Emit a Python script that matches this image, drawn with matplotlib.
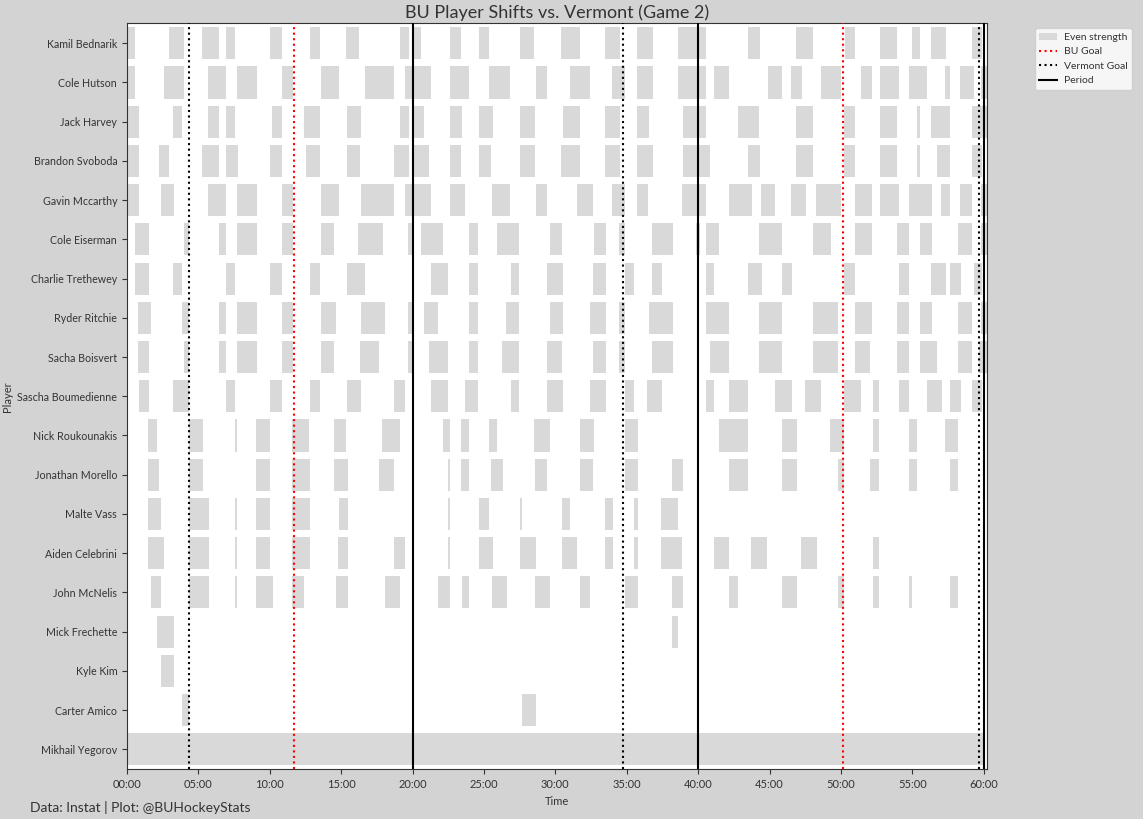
import matplotlib.pyplot as plt
from matplotlib.patches import Patch
from matplotlib.lines import Line2D
from matplotlib.ticker import FuncFormatter, MultipleLocator

plt.rcParams['font.family'] = ['Lato', 'DejaVu Sans']

# Jugadores (de arriba a abajo)
players = ['Kamil Bednarik', 'Cole Hutson', 'Jack Harvey', 'Brandon Svoboda',
           'Gavin Mccarthy', 'Cole Eiserman', 'Charlie Trethewey', 'Ryder Ritchie',
           'Sacha Boisvert', 'Sascha Boumedienne', 'Nick Roukounakis',
           'Jonathan Morello', 'Malte Vass', 'Aiden Celebrini', 'John McNelis',
           'Mick Frechette', 'Kyle Kim', 'Carter Amico', 'Mikhail Yegorov']

# Turnos (inicio, fin) en segundos
shifts = [
    [(0, 36), (176, 242), (315, 389), (415, 456), (600, 653), (768, 813), (919, 973), (1146, 1183),
     (1202, 1237), (1356, 1405), (1478, 1523), (1650, 1712), (1823, 1905), (2007, 2070), (2142, 2208),
     (2314, 2434), (2608, 2658), (2809, 2884), (3015, 3060), (3162, 3237), (3297, 3333), (3377, 3439),
     (3549, 3591)],
    [(0, 36), (155, 242), (340, 418), (462, 545), (651, 699), (815, 893), (1000, 1124), (1167, 1279),
     (1356, 1439), (1520, 1611), (1717, 1766), (1861, 1947), (2037, 2094), (2142, 2208), (2314, 2434),
     (2465, 2531), (2692, 2754), (2789, 2834), (2915, 3001), (3082, 3131), (3162, 3245), (3284, 3363),
     (3435, 3459), (3498, 3560), (3587, 3611)],
    [(0, 49), (193, 233), (340, 389), (415, 456), (609, 653), (743, 813), (924, 985), (1146, 1183),
     (1202, 1250), (1356, 1409), (1478, 1536), (1650, 1716), (1831, 1905), (2007, 2070), (2142, 2195),
     (2335, 2434), (2566, 2657), (2809, 2884), (3011, 3060), (3162, 3237), (3318, 3333), (3377, 3459),
     (3549, 3611)],
    [(0, 49), (134, 179), (315, 389), (415, 465), (600, 653), (751, 813), (924, 981), (1121, 1183),
     (1202, 1271), (1356, 1405), (1478, 1531), (1650, 1716), (1823, 1905), (2007, 2070), (2142, 2208),
     (2335, 2451), (2608, 2658), (2809, 2884), (3011, 3060), (3162, 3237), (3318, 3333), (3402, 3459),
     (3549, 3591)],
    [(0, 53), (143, 196), (340, 418), (462, 545), (651, 699), (815, 889), (983, 1124), (1167, 1279),
     (1356, 1422), (1533, 1611), (1717, 1766), (1890, 1960), (2037, 2094), (2142, 2187), (2331, 2434),
     (2528, 2624), (2663, 2724), (2789, 2851), (2894, 2999), (3057, 3131), (3162, 3245), (3284, 3380),
     (3419, 3459), (3498, 3552), (3587, 3611)],
    [(33, 91), (239, 259), (386, 418), (462, 545), (651, 699), (815, 872), (970, 1074), (1180, 1208),
     (1235, 1330), (1436, 1477), (1554, 1649), (1777, 1826), (1962, 2011), (2066, 2094), (2205, 2292),
     (2389, 2406), (2432, 2489), (2655, 2754), (2881, 2956), (3057, 3131), (3234, 3287), (3331, 3380),
     (3490, 3552), (3587, 3611)],
    [(33, 91), (193, 233), (415, 456), (600, 653), (768, 813), (924, 1002), (1277, 1347), (1436, 1477),
     (1613, 1649), (1764, 1830), (1958, 2011), (2092, 2132), (2205, 2246), (2432, 2468), (2608, 2666),
     (2751, 2792), (3011, 3060), (3242, 3287), (3377, 3439), (3457, 3502), (3558, 3591)],
    [(46, 103), (231, 259), (386, 418), (462, 545), (651, 699), (815, 880), (983, 1086), (1180, 1208),
     (1247, 1309), (1436, 1477), (1592, 1649), (1777, 1834), (1944, 2011), (2066, 2094), (2192, 2292),
     (2432, 2531), (2655, 2754), (2881, 2989), (3057, 3131), (3234, 3287), (3331, 3380), (3490, 3552),
     (3587, 3611)],
    [(46, 91), (239, 259), (386, 418), (462, 545), (651, 699), (815, 872), (979, 1061), (1180, 1208),
     (1268, 1347), (1436, 1477), (1575, 1649), (1764, 1826), (1958, 2011), (2066, 2094), (2205, 2292),
     (2393, 2403), (2448, 2531), (2655, 2754), (2881, 2989), (3057, 3123), (3234, 3287), (3331, 3405),
     (3490, 3552), (3579, 3611)],
    [(50, 91), (193, 259), (415, 456), (600, 653), (768, 813), (924, 985), (1121, 1170), (1277, 1347),
     (1419, 1477), (1613, 1649), (1764, 1830), (1944, 2011), (2092, 2132), (2184, 2246), (2432, 2468),
     (2528, 2611), (2721, 2792), (2847, 2917), (3011, 3085), (3133, 3161), (3242, 3287), (3361, 3422),
     (3457, 3502), (3549, 3591)],
    [(88, 128), (260, 318), (453, 464), (542, 603), (693, 763), (869, 922), (1071, 1149), (1327, 1359),
     (1403, 1439), (1520, 1556), (1709, 1779), (1902, 1964), (2091, 2145), (2486, 2611), (2751, 2813),
     (2953, 3013), (3133, 3161), (3284, 3321), (3436, 3493)],
    [(88, 137), (260, 318), (542, 603), (693, 771), (869, 927), (1058, 1124), (1348, 1359), (1403, 1439),
     (1529, 1578), (1713, 1766), (1902, 1960), (2091, 2145), (2289, 2338), (2528, 2611), (2751, 2813),
     (2986, 3013), (3120, 3161), (3284, 3321), (3457, 3493)],
    [(88, 145), (260, 343), (453, 464), (542, 603), (693, 771), (890, 927), (1348, 1359), (1478, 1523),
     (1650, 1661), (1826, 1863), (2007, 2040), (2129, 2145), (2242, 2317)],
    [(88, 158), (260, 343), (453, 464), (542, 603), (693, 771), (886, 927), (1121, 1170), (1348, 1359),
     (1478, 1536), (1650, 1720), (1826, 1892), (2007, 2040), (2129, 2145), (2242, 2333), (2465, 2531),
     (2621, 2691), (2831, 2897), (3133, 3161)],
    [(101, 145), (260, 343), (453, 464), (542, 612), (693, 746), (878, 927), (1084, 1149), (1306, 1359),
     (1407, 1439), (1533, 1595), (1713, 1779), (1902, 1947), (2091, 2145), (2289, 2338), (2528, 2569),
     (2751, 2813), (2986, 3013), (3133, 3161), (3284, 3300), (3457, 3493)],
    [(126, 196), (2289, 2317)],
    [(143, 196)],
    [(231, 259), (1659, 1720)],
    [(0, 763), (763, 1200), (1200, 2400), (2400, 3596)],
]

bu_goals = [700, 3007]
vermont_goals = [259, 2083, 3580]
periods = [1200, 2400, 3600]
game_end = 3612

fig = plt.figure(figsize=(11.43, 8.19), dpi=100, facecolor='lightgrey')
ax = fig.add_axes([0.111, 0.0607, 0.7523, 0.9109])
ax.set_facecolor('white')

for i, p in enumerate(shifts):
    ax.broken_barh([(s, e - s) for s, e in p], (i - 0.41, 0.82),
                   facecolors='#d9d9d9', zorder=1)

for g in bu_goals:
    ax.axvline(g, color='red', linestyle=':', linewidth=1.5, zorder=3)
for g in vermont_goals:
    ax.axvline(g, color='black', linestyle=':', linewidth=1.5, zorder=3)
for p in periods:
    ax.axvline(p, color='black', linestyle='-', linewidth=1.5, zorder=3)

ax.set_xlim(0, game_end)
ax.set_ylim(len(players) - 0.49, -0.51)
ax.set_yticks(range(len(players)))
ax.set_yticklabels(players, fontsize=7.7, color='#333333')
ax.xaxis.set_major_locator(MultipleLocator(300))
ax.xaxis.set_major_formatter(FuncFormatter(lambda x, pos: '%02d:%02d' % (x // 60, x % 60)))
ax.tick_params(axis='x', labelsize=8, colors='#333333')
ax.tick_params(axis='y', colors='#333333')
for s in ax.spines.values():
    s.set_color('#333333')

ax.set_xlabel('Time', fontsize=8, color='#333333')
ax.set_ylabel('Player', fontsize=8, color='#333333')
ax.yaxis.set_label_coords(-0.133, 0.5)
ax.set_title('BU Player Shifts vs. Vermont (Game 2)', fontsize=13, color='#333333', pad=4)

handles = [Patch(facecolor='#d9d9d9', label='Even strength'),
           Line2D([0], [0], color='red', linestyle=':', label='BU Goal'),
           Line2D([0], [0], color='black', linestyle=':', label='Vermont Goal'),
           Line2D([0], [0], color='black', linestyle='-', label='Period')]
leg = ax.legend(handles=handles, loc='upper left', bbox_to_anchor=(1.05, 1), fontsize=7.5,
                handlelength=1.7, handletextpad=0.7)
for t in leg.get_texts():
    t.set_color('#333333')

fig.text(0.026, 0.009, 'Data: Instat | Plot: @BUHockeyStats', fontsize=10, color='#333333')

plt.savefig('out.png', facecolor=fig.get_facecolor())
